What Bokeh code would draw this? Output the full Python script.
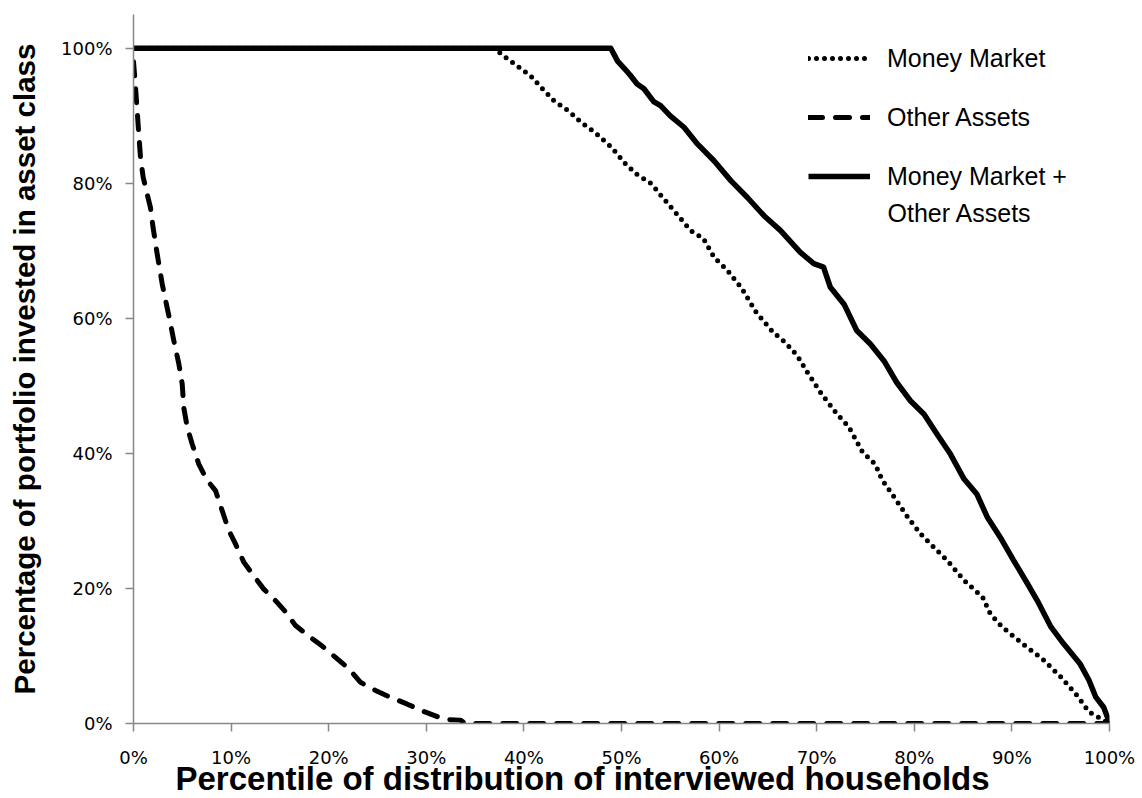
from bokeh.plotting import figure
from bokeh.models import Range1d, FixedTicker, NumeralTickFormatter, Legend, LegendItem, Label, Title
from bokeh.embed import file_html
from bokeh.resources import INLINE

# ---- data ----
x_ticks = [0.0, 0.1, 0.2, 0.3, 0.4, 0.5, 0.6, 0.7, 0.8, 0.9, 1.0]
y_ticks = [0.0, 0.2, 0.4, 0.6, 0.8, 1.0]

mm_x = [0.0, 0.370, 0.378, 0.393, 0.407, 0.419, 0.431, 0.446, 0.458, 0.473, 0.490, 0.504,
        0.515, 0.531, 0.537, 0.554, 0.571, 0.584, 0.595, 0.608, 0.623, 0.638, 0.655, 0.668,
        0.680, 0.690, 0.705, 0.721, 0.733, 0.747, 0.760, 0.767, 0.780, 0.794, 0.807, 0.820,
        0.834, 0.851, 0.870, 0.878, 0.890, 0.911, 0.931, 0.950, 0.967, 0.979, 0.990, 1.0]
mm_y = [1.0, 1.0, 0.990, 0.974, 0.959, 0.940, 0.922, 0.907, 0.891, 0.875, 0.853, 0.829,
        0.814, 0.799, 0.788, 0.759, 0.730, 0.718, 0.690, 0.672, 0.645, 0.609, 0.580, 0.564,
        0.545, 0.521, 0.488, 0.458, 0.439, 0.402, 0.384, 0.361, 0.334, 0.304, 0.280, 0.261,
        0.241, 0.212, 0.187, 0.162, 0.143, 0.118, 0.096, 0.069, 0.041, 0.017, 0.008, 0.0]

other_x = [0.0, 0.0013, 0.0038, 0.0054, 0.0072, 0.0099, 0.014, 0.0174, 0.020, 0.0243, 0.0294,
           0.0372, 0.0413, 0.0464, 0.0499, 0.0515, 0.055, 0.0601, 0.0669, 0.0755, 0.084,
           0.0909, 0.0976, 0.1045, 0.113, 0.123, 0.1335, 0.1455, 0.156, 0.166, 0.181, 0.193,
           0.207, 0.2206, 0.2326, 0.248, 0.263, 0.280, 0.297, 0.319, 0.335, 0.340, 1.0]
other_y = [0.980, 0.957, 0.907, 0.873, 0.838, 0.809, 0.784, 0.764, 0.735, 0.695, 0.651,
           0.597, 0.567, 0.533, 0.503, 0.468, 0.439, 0.414, 0.384, 0.360, 0.345,
           0.315, 0.286, 0.266, 0.239, 0.219, 0.199, 0.182, 0.165, 0.145, 0.128, 0.115,
           0.098, 0.081, 0.061, 0.049, 0.039, 0.029, 0.018, 0.006, 0.005, 0.0, 0.0]

comb_x = [0.0, 0.489, 0.496, 0.503, 0.509, 0.516, 0.523, 0.533, 0.540, 0.550, 0.564, 0.578,
          0.595, 0.612, 0.629, 0.646, 0.663, 0.683, 0.697, 0.707, 0.714, 0.728, 0.741, 0.755,
          0.769, 0.782, 0.796, 0.810, 0.823, 0.837, 0.851, 0.864, 0.875, 0.888, 0.902, 0.916,
          0.926, 0.940, 0.953, 0.970, 0.979, 0.986, 0.994, 0.998, 1.0]
comb_y = [1.0, 1.0, 0.981, 0.970, 0.960, 0.947, 0.940, 0.921, 0.915, 0.900, 0.883, 0.858,
          0.833, 0.804, 0.779, 0.752, 0.730, 0.698, 0.681, 0.676, 0.646, 0.621, 0.582, 0.562,
          0.537, 0.505, 0.478, 0.458, 0.429, 0.399, 0.362, 0.340, 0.305, 0.276, 0.241, 0.207,
          0.182, 0.143, 0.118, 0.088, 0.064, 0.039, 0.024, 0.009, 0.0]

series_labels = ["Money Market", "Other Assets", "Money Market +", "Other Assets"]
x_title = "Percentile of distribution of interviewed households"
y_title = "Percentage of portfolio invested in asset class"

# ---- figure ----
p = figure(width=1140, height=796, output_backend="svg", toolbar_location=None,
           x_range=Range1d(0, 1), y_range=Range1d(0, 1.05),
           min_border_left=133, min_border_right=31, min_border_top=14, min_border_bottom=73)
p.outline_line_color = None
p.grid.visible = False
p.background_fill_color = "white"
p.border_fill_color = "white"

axis_gray = "#878787"
for ax in (p.xaxis[0], p.yaxis[0]):
    ax.axis_line_color = axis_gray
    ax.axis_line_width = 1.5
    ax.major_tick_line_color = axis_gray
    ax.major_tick_line_width = 1.5
    ax.minor_tick_line_color = None
    ax.major_tick_in = 0
    ax.major_tick_out = 8
    ax.major_label_text_font = "DejaVu Sans"
    ax.major_label_text_font_size = "18px"
    ax.major_label_text_color = "black"
    ax.formatter = NumeralTickFormatter(format="0%")

p.xaxis.ticker = FixedTicker(ticks=x_ticks)
p.yaxis.ticker = FixedTicker(ticks=y_ticks)
p.xaxis.major_label_standoff = 15
p.yaxis.major_label_standoff = 13

p.yaxis.axis_label = y_title
p.yaxis.axis_label_text_font = "Liberation Sans"
p.yaxis.axis_label_text_font_style = "bold"
p.yaxis.axis_label_text_font_size = "29.5px"
p.yaxis.axis_label_text_color = "black"
p.yaxis.axis_label_standoff = 17

# ---- series ----
r_mm = p.line(mm_x, mm_y, line_color="black", line_width=5, line_dash="0 8",
              line_cap="round", line_join="round")
r_oa = p.line(other_x, other_y, line_color="black", line_width=5, line_dash="14 13",
              line_cap="round", line_join="round")
r_cb = p.line(comb_x, comb_y, line_color="black", line_width=5.5, line_join="round")

# ---- legend ----
legend = Legend(items=[LegendItem(label=series_labels[0], renderers=[r_mm]),
                       LegendItem(label=series_labels[1], renderers=[r_oa]),
                       LegendItem(label=series_labels[2], renderers=[r_cb])],
                location=(675, 531), glyph_width=62, glyph_height=32, label_height=32,
                spacing=27, label_standoff=17, padding=0, margin=0,
                border_line_alpha=0, background_fill_alpha=0,
                label_text_font="Liberation Sans", label_text_font_size="25px",
                label_text_color="black")
p.add_layout(legend)

p.add_layout(Label(x=754, y=511, x_units="screen", y_units="screen", text=series_labels[3],
                   text_align="left", text_baseline="middle", text_font="Liberation Sans",
                   text_font_size="25px", text_color="black"))

# ---- x title ----
p.add_layout(Title(text=x_title, align="left", offset=42, standoff=-22, vertical_align="top",
                   text_font="Liberation Sans", text_font_style="bold",
                   text_font_size="33px", text_color="black"), "below")

open("out.html", "w").write(file_html(p, INLINE))
